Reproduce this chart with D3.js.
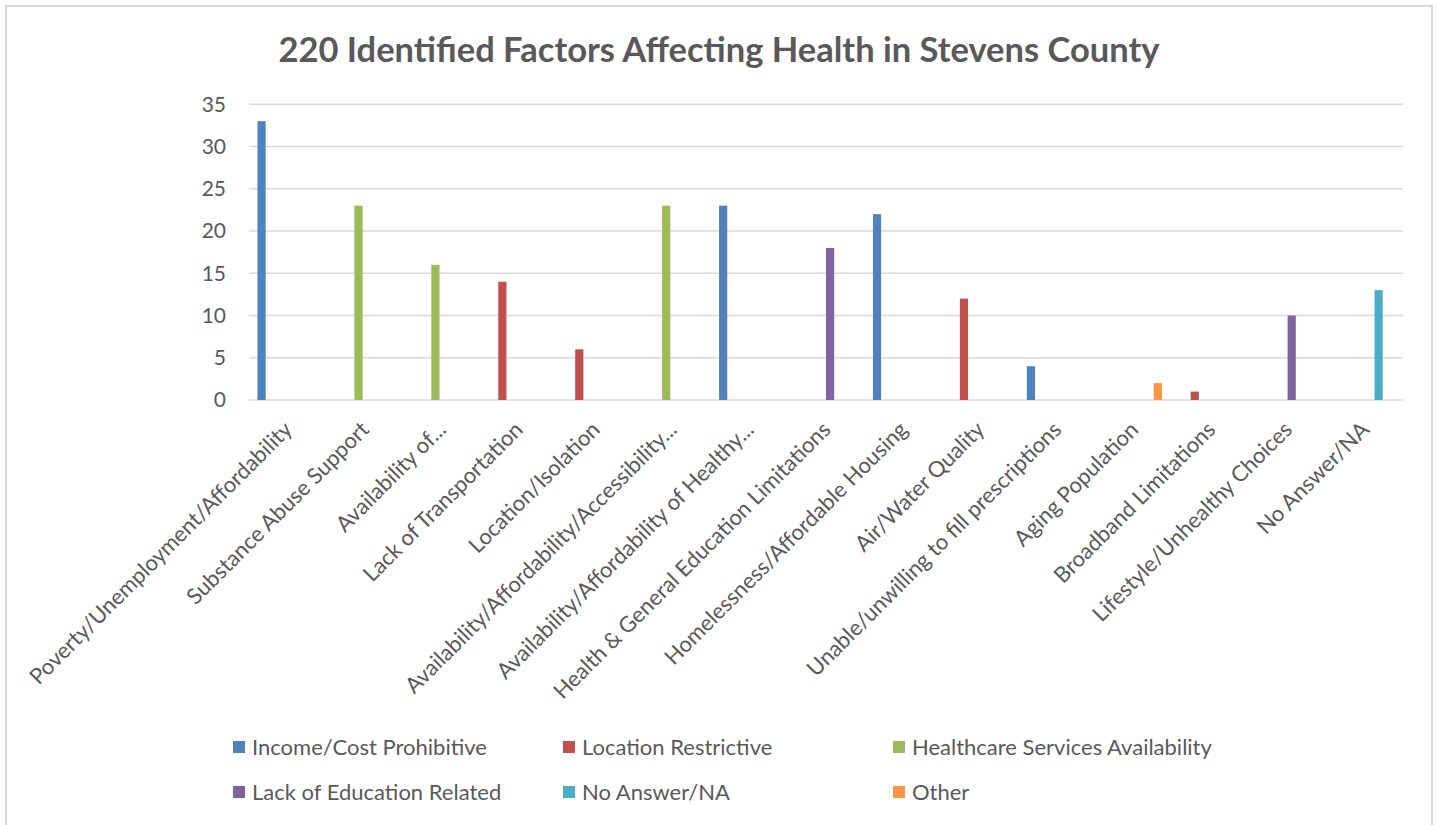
<!DOCTYPE html>
<html>
<head>
<meta charset="utf-8">
<script src="https://cdn.jsdelivr.net/npm/d3@7"></script>
<style>
  html, body { margin: 0; padding: 0; background: #fff; }
  svg { display: block; }
  text { font-family: Lato, "Noto Sans", sans-serif; fill: #595959; }
</style>
</head>
<body>
<svg id="chart" width="1437" height="825"></svg>
<script>
const title = "220 Identified Factors Affecting Health in Stevens County";
const categories = [
  "Poverty/Unemployment/Affordability",
  "Substance Abuse Support",
  "Availability of...",
  "Lack of Transportation",
  "Location/Isolation",
  "Availability/Affordability/Accessibility...",
  "Availability/Affordability of Healthy...",
  "Health & General Education Limitations",
  "Homelessness/Affordable Housing",
  "Air/Water Quality",
  "Unable/unwilling to fill prescriptions",
  "Aging Population",
  "Broadband Limitations",
  "Lifestyle/Unhealthy Choices",
  "No Answer/NA"
];
const seriesNames = [
  "Income/Cost Prohibitive",
  "Location Restrictive",
  "Healthcare Services Availability",
  "Lack of Education Related",
  "No Answer/NA",
  "Other"
];
const seriesColors = ["#4F81BD", "#C0504D", "#9BBB59", "#8064A2", "#4BACC6", "#F79646"];
const incomeValues     = [33, 0, 0, 0, 0, 0, 23, 0, 22, 0, 4, 0, 0, 0, 0];
const locationValues   = [0, 0, 0, 14, 6, 0, 0, 0, 0, 12, 0, 0, 1, 0, 0];
const healthcareValues = [0, 23, 16, 0, 0, 23, 0, 0, 0, 0, 0, 0, 0, 0, 0];
const educationValues  = [0, 0, 0, 0, 0, 0, 0, 18, 0, 0, 0, 0, 0, 10, 0];
const noAnswerValues   = [0, 0, 0, 0, 0, 0, 0, 0, 0, 0, 0, 0, 0, 0, 13];
const otherValues      = [0, 0, 0, 0, 0, 0, 0, 0, 0, 0, 0, 2, 0, 0, 0];
const yTicks = [0, 5, 10, 15, 20, 25, 30, 35];

const seriesValues = [incomeValues, locationValues, healthcareValues, educationValues, noAnswerValues, otherValues];

const svg = d3.select("#chart");

// outer chart border
svg.append("path")
  .attr("d", "M6,830 L6,6 L1432,6 L1432,830")
  .attr("fill", "none").attr("stroke", "#d9d9d9").attr("stroke-width", 2);

const plot = { left: 249, right: 1403, top: 104.3, bottom: 400 };

const x0 = d3.scaleBand().domain(categories).range([plot.left, plot.right])
  .paddingInner(0.22).paddingOuter(0.11);
const x1 = d3.scaleBand().domain(seriesNames).range([0, x0.bandwidth()]);
const y = d3.scaleLinear().domain([0, 35]).range([plot.bottom, plot.top]);

// title
svg.append("text")
  .attr("x", 719).attr("y", 62)
  .attr("text-anchor", "middle")
  .style("font-size", "34.5px").style("font-weight", "bold")
  .text(title);

// gridlines
svg.append("g").selectAll("line").data(yTicks).join("line")
  .attr("x1", plot.left).attr("x2", plot.right)
  .attr("y1", d => y(d)).attr("y2", d => y(d))
  .attr("stroke", "#d9d9d9").attr("stroke-width", 1.5);

// y axis labels
const yAxis = d3.axisLeft(y).tickValues(yTicks).tickSize(0).tickPadding(0);
const gy = svg.append("g").attr("transform", `translate(${226},0)`).call(yAxis);
gy.select(".domain").remove();
gy.selectAll("text").style("font-size", "21px").attr("fill", "#595959")
  .style("font-family", "Lato, 'Noto Sans', sans-serif");

// bars
const barData = [];
categories.forEach((c, i) => {
  seriesNames.forEach((s, j) => {
    barData.push({ cat: c, series: s, value: seriesValues[j][i], color: seriesColors[j] });
  });
});
svg.append("g").selectAll("rect").data(barData.filter(d => d.value > 0)).join("rect")
  .attr("x", d => x0(d.cat) + x1(d.series))
  .attr("width", x1.bandwidth() * 0.82)
  .attr("y", d => y(d.value))
  .attr("height", d => y(0) - y(d.value))
  .attr("fill", d => d.color);

// x axis category labels
const xAxis = d3.axisBottom(x0).tickSize(0).tickPadding(0);
const gx = svg.append("g").attr("transform", `translate(0,${plot.bottom})`).call(xAxis);
gx.select(".domain").remove();
gx.selectAll(".tick text")
  .attr("text-anchor", "end")
  .attr("x", 0).attr("y", 0).attr("dy", 0)
  .attr("transform", "translate(6,31) rotate(-45)")
  .style("font-size", "22px").attr("fill", "#595959")
  .style("font-family", "Lato, 'Noto Sans', sans-serif");

// legend
const legendX = [233, 563, 893];
const legendY = [747, 792];
const lg = svg.append("g").selectAll("g").data(seriesNames).join("g")
  .attr("transform", (d, i) => `translate(${legendX[i % 3]},${legendY[Math.floor(i / 3)]})`);
lg.append("rect").attr("x", 0).attr("y", -6).attr("width", 12).attr("height", 12)
  .attr("fill", (d, i) => seriesColors[i]);
lg.append("text").attr("x", 19).attr("y", 0).attr("dy", "0.35em")
  .style("font-size", "22px").text(d => d);
</script>
</body>
</html>
